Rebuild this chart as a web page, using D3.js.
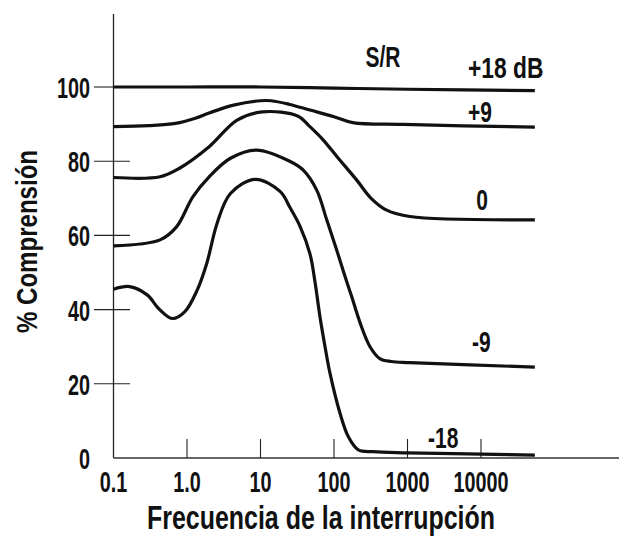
<!DOCTYPE html>
<html>
<head>
<meta charset="utf-8">
<script src="https://cdn.jsdelivr.net/npm/d3@7"></script>
<style>
  html, body { margin: 0; padding: 0; background: #fff; }
  svg { display: block; }
</style>
</head>
<body>
<svg id="chart" width="619" height="545"></svg>
<script>
// Speech intelligibility vs. interruption frequency, one curve per S/R level
const seriesNames = ["+18 dB", "+9", "0", "-9", "-18"];

// [interruption frequency (Hz), % comprehension]
const snrPlus18 = [[0.1,100],[1,100],[10,100],[100,99.7],[1000,99.4],[54000,99]];
const snrPlus9 = [[0.1,89.3],[0.3,89.6],[0.7,90.2],[1.3,91.6],[2,93],[4.3,95.1],[10,96.3],[14,96.3],[25,95.3],[47,93.8],[100,92],[180,90.4],[870,89.9],[54000,89.2]];
const snrZero = [[0.1,75.6],[0.43,75.8],[0.79,78.1],[2,83.9],[4.8,91.1],[10.7,93.3],[32,92.2],[47,89.3],[71.5,85.7],[110,81.2],[204,74.9],[320,70],[521,66.8],[1080,65.1],[54000,64.2]];
const snrMinus9 = [[0.1,57.2],[0.43,58.8],[0.72,62.3],[1.2,70.4],[2,75.8],[3.9,80.8],[8.9,83],[25,80],[38.2,77.6],[58.2,72.2],[79.6,64.2],[109,56],[141,49],[174,43.5],[226,36.5],[309,30],[420,26.8],[600,26],[1080,25.7],[54000,24.5]];
const snrMinus18 = [[0.1,45.5],[0.166,46.2],[0.29,43.9],[0.41,40.3],[0.63,37.6],[0.93,39.4],[1.38,45.3],[1.86,52.5],[2.57,63.3],[3.9,71.3],[8.5,75.1],[18.6,71.8],[25.2,67.5],[34.4,62.5],[47.1,55],[55.1,47.5],[64.5,38],[75.5,30],[88.3,22.8],[121,12],[157,5.7],[214,2.2],[343,1.7],[1000,1.4],[54000,0.8]];

const xTicks = [0.1, 1, 10, 100, 1000, 10000];
const xTickLabels = ["0.1", "1.0", "10", "100", "1000", "10000"];
const yTicks = [0, 20, 40, 60, 80, 100];

const svg = d3.select("#chart");
const FONT = "'Liberation Sans', Arial, sans-serif";

const x = d3.scaleLog().domain([0.1, 10000]).range([113.5, 481]);
const y = d3.scaleLinear().domain([0, 100]).range([458, 87]);

// condensed bold label helper
function label(px, py, str, anchor, size, sx) {
  const g = svg.append("g").attr("transform", `translate(${px},${py}) scale(${sx},1)`);
  g.append("text")
    .attr("text-anchor", anchor)
    .attr("font-family", FONT)
    .attr("font-weight", "bold")
    .attr("font-size", size)
    .attr("fill", "#111")
    .text(str);
  return g;
}

// axes lines
svg.append("line")
  .attr("x1", x(0.1)).attr("x2", x(0.1))
  .attr("y1", 14).attr("y2", y(0))
  .attr("stroke", "#222").attr("stroke-width", 1.3);
svg.append("line")
  .attr("x1", x(0.1)).attr("x2", 619)
  .attr("y1", y(0)).attr("y2", y(0))
  .attr("stroke", "#333").attr("stroke-width", 1.3);

// y ticks (cross the axis)
svg.selectAll(".ytick").data(yTicks.filter(d => d > 0)).enter().append("line")
  .attr("class", "ytick")
  .attr("x1", 94)
  .attr("x2", d => d === 100 ? x(0.1) : 130)
  .attr("y1", d => y(d)).attr("y2", d => y(d))
  .attr("stroke", "#222").attr("stroke-width", 1.1);

// x ticks
svg.selectAll(".xtick").data(xTicks.slice(1)).enter().append("line")
  .attr("class", "xtick")
  .attr("x1", d => x(d)).attr("x2", d => x(d))
  .attr("y1", y(0) - 19).attr("y2", y(0))
  .attr("stroke", "#222").attr("stroke-width", 1.1);

// tick labels
yTicks.forEach(d => label(90, y(d) + 11, String(d), "end", 30, 0.66));
xTicks.forEach((d, i) => label(x(d), 492, xTickLabels[i], "middle", 30, 0.66));

// curves
const line = d3.line()
  .x(d => x(d[0]))
  .y(d => y(d[1]))
  .curve(d3.curveCatmullRom.alpha(0.5));

[snrPlus18, snrPlus9, snrZero, snrMinus9, snrMinus18].forEach(s => {
  svg.append("path")
    .datum(s)
    .attr("d", line)
    .attr("fill", "none")
    .attr("stroke", "#111")
    .attr("stroke-width", 3.2)
    .attr("stroke-linejoin", "round")
    .attr("stroke-linecap", "butt");
});

// series labels
label(383, 67, "S/R", "middle", 30, 0.7);
label(468, 78, seriesNames[0], "start", 30, 0.76);
label(468, 122, seriesNames[1], "start", 30, 0.7);
label(482, 210, seriesNames[2], "middle", 30, 0.7);
label(472, 352, seriesNames[3], "start", 30, 0.7);
label(428, 448, seriesNames[4], "start", 30, 0.7);

// axis titles
svg.append("text")
  .attr("x", 147).attr("y", 529)
  .attr("font-family", FONT).attr("font-weight", "bold")
  .attr("font-size", 33).attr("fill", "#111")
  .attr("textLength", 348).attr("lengthAdjust", "spacingAndGlyphs")
  .text("Frecuencia de la interrupción");

svg.append("text")
  .attr("transform", "translate(37,333) rotate(-90)")
  .attr("font-family", FONT).attr("font-weight", "bold")
  .attr("font-size", 30).attr("fill", "#111")
  .attr("textLength", 183).attr("lengthAdjust", "spacingAndGlyphs")
  .text("% Comprensión");
</script>
</body>
</html>
